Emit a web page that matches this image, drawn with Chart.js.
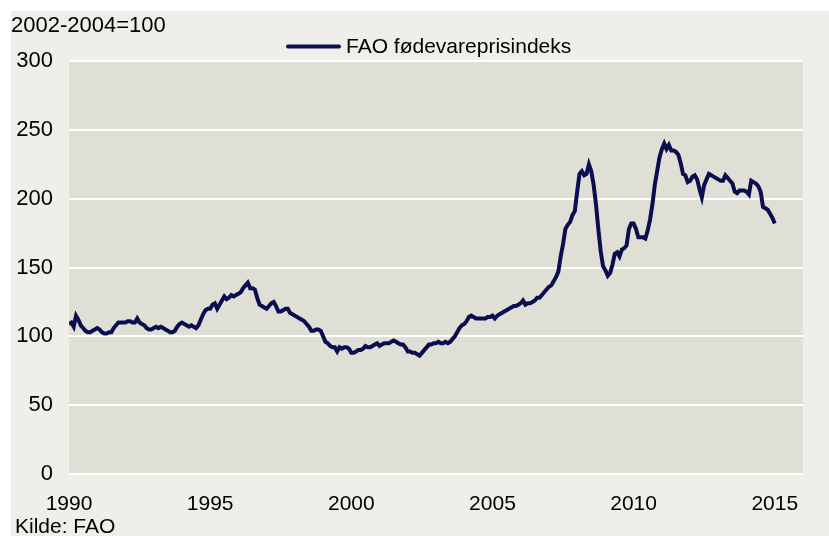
<!DOCTYPE html>
<html>
<head>
<meta charset="utf-8">
<script src="https://cdn.jsdelivr.net/npm/chart.js@4.4.1/dist/chart.umd.min.js"></script>
<style>
  html, body { margin: 0; padding: 0; background: #ffffff; }
  canvas { display: block; }
</style>
</head>
<body>
<canvas id="fpiChart" width="829" height="536"></canvas>
<script>
// FAO food price index, monthly, Jan 1990 - Jan 2015 (2002-2004=100)
const startYear = 1990;
const fpi = [
  109, 110, 107, 115, 112, 108, 106, 104, 103, 103, 104, 105, // 1990
  106, 105, 103, 102, 102, 103, 103, 106, 108, 110, 110, 110, // 1991
  110, 111, 111, 110, 110, 113, 110, 109, 108, 106, 105, 105, // 1992
  106, 107, 106, 107, 106, 105, 104, 103, 103, 104, 107, 109, // 1993
  110, 109, 108, 107, 108, 107, 106, 108, 112, 116, 119, 120, // 1994
  120, 123, 124, 120, 123, 126, 129, 127, 128, 130, 129, 130, // 1995
  131, 132, 135, 137, 139, 135, 135, 134, 128, 123, 122, 121, // 1996
  120, 122, 124, 125, 122, 118, 118, 119, 120, 120, 117, 116, // 1997
  115, 114, 113, 112, 111, 109, 107, 104, 104, 105, 105, 104, // 1998
  100, 96, 95, 93, 92, 92, 89, 92, 91, 92, 92, 91,            // 1999
  88, 88, 89, 90, 90, 91, 93, 92, 92, 93, 94, 95,             // 2000
  93, 94, 95, 95, 95, 96, 97, 96, 95, 94, 94, 92,             // 2001
  89, 89, 88, 88, 87, 86, 88, 90, 92, 94, 94, 95,             // 2002
  95, 96, 95, 95, 96, 95, 96, 98, 100, 103, 106, 108,         // 2003
  109, 111, 114, 115, 114, 113, 113, 113, 113, 113, 114, 114, // 2004
  115, 113, 115, 116, 117, 118, 119, 120, 121, 122, 122, 123, // 2005
  124, 126, 123, 124, 124, 125, 126, 128, 128, 130, 132, 134, // 2006
  136, 137, 140, 143, 147, 158, 167, 178, 181, 183, 188, 191, // 2007
  205, 218, 220, 217, 218, 225, 220, 210, 196, 178, 162, 151, // 2008
  148, 144, 146, 152, 160, 161, 158, 163, 164, 166, 178, 182, // 2009
  182, 178, 172, 172, 172, 171, 177, 185, 196, 210, 220, 230, // 2010
  236, 240, 236, 239, 235, 235, 234, 232, 226, 218, 217, 212, // 2011
  213, 216, 217, 214, 207, 201, 210, 214, 218, 217, 216, 215, // 2012
  214, 213, 213, 217, 215, 213, 211, 205, 204, 206, 206, 206, // 2013
  205, 203, 213, 212, 211, 209, 205, 194, 193, 192, 189, 186, // 2014
  182                                                         // 2015
];
const seriesLabel = 'FAO fødevareprisindeks';
const unitLabel = '2002-2004=100';
const sourceLabel = 'Kilde: FAO';
const xTicks = [1990, 1995, 2000, 2005, 2010, 2015];
const yTicks = [0, 50, 100, 150, 200, 250, 300];

const points = fpi.map((v, i) => ({ x: startYear + i / 12, y: v }));

const FONT = '"Liberation Sans", Arial, sans-serif';
const lineColor = '#0b0e4e';

// panel and plot backgrounds, plus the loose texts and legend
const decor = {
    id: 'decor',
    beforeDraw(chart) {
        const ctx = chart.ctx;
        const a = chart.chartArea;
        ctx.save();
        ctx.fillStyle = '#ffffff';
        ctx.fillRect(0, 0, chart.width, chart.height);
        ctx.fillStyle = '#efeee8';
        ctx.fillRect(11, 11, chart.width - 11, chart.height - 11);
        ctx.fillStyle = '#e0dfd5';
        ctx.fillRect(a.left, a.top, a.right - a.left, a.bottom - a.top);
        ctx.restore();
    },
    afterDraw(chart) {
        const ctx = chart.ctx;
        ctx.save();
        ctx.fillStyle = '#000000';
        ctx.textBaseline = 'alphabetic';
        ctx.textAlign = 'left';
        ctx.font = '22px ' + FONT;
        ctx.fillText(unitLabel, 11, 32);
        ctx.font = '21px ' + FONT;
        ctx.fillText(sourceLabel, 15, 533);
        // legend
        ctx.strokeStyle = lineColor;
        ctx.lineWidth = 4;
        ctx.lineCap = 'round';
        ctx.beginPath();
        ctx.moveTo(288, 46.5);
        ctx.lineTo(339, 46.5);
        ctx.stroke();
        ctx.fillText(seriesLabel, 346, 53);
        ctx.restore();
    }
};

const chart = new Chart(document.getElementById('fpiChart').getContext('2d'), {
    type: 'line',
    data: {
        datasets: [{
            label: seriesLabel,
            data: points,
            borderColor: lineColor,
            borderWidth: 4,
            pointRadius: 0,
            tension: 0,
            fill: false
        }]
    },
    options: {
        responsive: false,
        animation: false,
        layout: { padding: { left: 0, top: 61, right: 26, bottom: 0 } },
        plugins: {
            legend: { display: false },
            tooltip: { enabled: false }
        },
        scales: {
            x: {
                type: 'linear',
                min: 1990,
                max: 2016,
                afterBuildTicks: s => { s.ticks = xTicks.map(v => ({ value: v })); },
                afterFit: s => { s.height = 62; },
                grid: { display: false },
                border: { display: false },
                ticks: {
                    color: '#000000',
                    font: { family: FONT, size: 21 },
                    padding: 10,
                    maxRotation: 0,
                    autoSkip: false,
                    callback: v => String(v)
                }
            },
            y: {
                min: 0,
                max: 300,
                afterBuildTicks: s => { s.ticks = yTicks.map(v => ({ value: v })); },
                afterFit: s => { s.width = 69; },
                grid: { color: '#ffffff', lineWidth: 2, drawTicks: false },
                border: { display: false },
                ticks: {
                    color: '#000000',
                    font: { family: FONT, size: 22 },
                    padding: 16,
                    callback: v => String(v)
                }
            }
        }
    },
    plugins: [decor]
});
</script>
</body>
</html>
